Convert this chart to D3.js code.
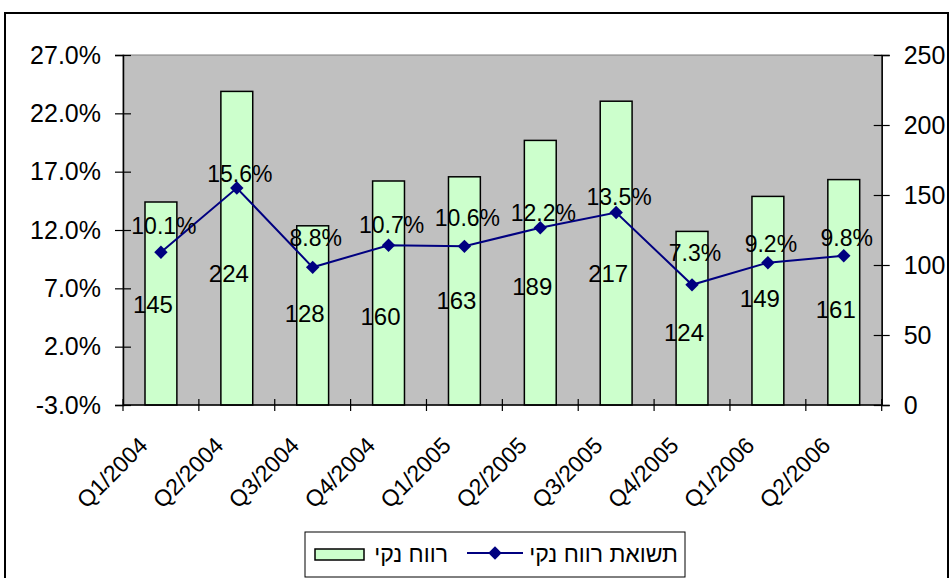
<!DOCTYPE html>
<html>
<head>
<meta charset="utf-8">
<script src="https://cdn.jsdelivr.net/npm/d3@7"></script>
<style>
  body { margin: 0; background: white; }
  text { font-family: "Liberation Sans", Arial, sans-serif; fill: black; }
</style>
</head>
<body>
<script>
const quarters = ["Q1/2004", "Q2/2004", "Q3/2004", "Q4/2004", "Q1/2005",
                  "Q2/2005", "Q3/2005", "Q4/2005", "Q1/2006", "Q2/2006"];
// net profit (bars, right axis)
const netProfit = [145, 224, 128, 160, 163, 189, 217, 124, 149, 161];
// return on net profit, % (line, left axis)
const profitReturn = [10.1, 15.6, 8.8, 10.7, 10.6, 12.2, 13.5, 7.3, 9.2, 9.8];
// where the data labels sit (in axis units)
const countLabelAt = [72, 94, 65, 63, 74.5, 84.5, 94, 51.6, 76.2, 68.4];
const rateLabelAt = [12.34, 16.8, 11.31, 12.43, 13.03, 13.46, 14.83, 10.03, 10.8, 11.31];
const leftTicks = [-3, 2, 7, 12, 17, 22, 27];
const rightTicks = [0, 50, 100, 150, 200, 250];
const legendNames = ["תשואת רווח נקי", "רווח נקי"];

const WIDTH = 951;
const HEIGHT = 578;
const PLOT = { left: 123, right: 881.7, top: 55, bottom: 405 };
const BAR_FILL = "#CCFFCC";
const LINE_COLOR = "#000080";
const GREY = "#C0C0C0";

const svg = d3.select("body")
              .append("svg")
              .attr("width", WIDTH)
              .attr("height", HEIGHT);

// outer chart frame
svg.append("rect")
   .attr("x", 5)
   .attr("y", 13)
   .attr("width", 943)
   .attr("height", 600)
   .attr("fill", "white")
   .attr("stroke", "black")
   .attr("stroke-width", 2);

const x = d3.scaleBand()
            .domain(quarters)
            .range([PLOT.left, PLOT.right])
            .padding(0);
const yLeft = d3.scaleLinear().domain([-3, 27]).range([PLOT.bottom, PLOT.top]);
const yRight = d3.scaleLinear().domain([0, 250]).range([PLOT.bottom, PLOT.top]);
const bw = x.bandwidth();
const barW = bw * 0.42;
const cx = d => x(d) + bw / 2;

// plot background
svg.append("rect")
   .attr("x", PLOT.left)
   .attr("y", PLOT.top)
   .attr("width", PLOT.right - PLOT.left)
   .attr("height", PLOT.bottom - PLOT.top)
   .attr("fill", GREY)
   .attr("stroke", "#808080")
   .attr("stroke-width", 1);

// bars
svg.append("g")
   .selectAll("rect")
   .data(quarters)
   .join("rect")
   .attr("x", d => cx(d) - barW / 2)
   .attr("y", (d, i) => yRight(netProfit[i]))
   .attr("width", barW)
   .attr("height", (d, i) => yRight(0) - yRight(netProfit[i]))
   .attr("fill", BAR_FILL)
   .attr("stroke", "black")
   .attr("stroke-width", 1.5);

// axes
const leftAxis = svg.append("g")
   .attr("transform", `translate(${PLOT.left},0)`)
   .call(d3.axisLeft(yLeft).tickValues(leftTicks).tickSize(8).tickPadding(14)
           .tickFormat(d => d.toFixed(1) + "%"));
const rightAxis = svg.append("g")
   .attr("transform", `translate(${PLOT.right},0)`)
   .call(d3.axisRight(yRight).tickValues(rightTicks).tickSize(8).tickPadding(14));

[leftAxis, rightAxis].forEach(g => {
  g.select(".domain").attr("stroke", "black").attr("stroke-width", 1.5);
  g.selectAll(".tick line").attr("stroke", "black").attr("stroke-width", 1.2);
  g.selectAll("text").attr("font-size", 25).attr("font-family", "Liberation Sans, Arial, sans-serif");
});
leftAxis.selectAll(".tick line").attr("x1", 8);
rightAxis.selectAll(".tick line").attr("x1", -8);

// bottom axis line and category boundary ticks
svg.append("line")
   .attr("x1", PLOT.left).attr("x2", PLOT.right)
   .attr("y1", PLOT.bottom).attr("y2", PLOT.bottom)
   .attr("stroke", "black").attr("stroke-width", 1.5);

svg.append("g")
   .selectAll("line")
   .data(quarters.map(q => x(q)).concat([PLOT.right]))
   .join("line")
   .attr("x1", d => d).attr("x2", d => d)
   .attr("y1", PLOT.bottom - 6).attr("y2", PLOT.bottom + 6)
   .attr("stroke", "black").attr("stroke-width", 1.2);

svg.append("g")
   .selectAll("text")
   .data(quarters)
   .join("text")
   .attr("transform", d => `translate(${cx(d) - 12},447) rotate(-45)`)
   .attr("text-anchor", "end")
   .attr("font-size", 23)
   .text(d => d);

// line with diamonds
const line = d3.line()
               .x(d => cx(d))
               .y((d, i) => yLeft(profitReturn[i]));

svg.append("path")
   .datum(quarters)
   .attr("d", line)
   .attr("fill", "none")
   .attr("stroke", LINE_COLOR)
   .attr("stroke-width", 2);

const diamond = d3.symbol(d3.symbolSquare, 90);
svg.append("g")
   .selectAll("path")
   .data(quarters)
   .join("path")
   .attr("d", diamond)
   .attr("transform", (d, i) => `translate(${cx(d)},${yLeft(profitReturn[i])}) rotate(45)`)
   .attr("fill", LINE_COLOR);

// data labels
svg.append("g")
   .selectAll("text")
   .data(quarters)
   .join("text")
   .attr("x", d => cx(d) - 8)
   .attr("y", (d, i) => yRight(countLabelAt[i]))
   .attr("dy", "0.35em")
   .attr("text-anchor", "middle")
   .attr("font-size", 24)
   .text((d, i) => netProfit[i]);

svg.append("g")
   .selectAll("text")
   .data(quarters)
   .join("text")
   .attr("x", d => cx(d) + 3)
   .attr("y", (d, i) => yLeft(rateLabelAt[i]))
   .attr("dy", "0.35em")
   .attr("text-anchor", "middle")
   .attr("font-size", 23)
   .text((d, i) => profitReturn[i].toFixed(1) + "%");

// legend
const legend = svg.append("g");
legend.append("rect")
      .attr("x", 305).attr("y", 532)
      .attr("width", 380).attr("height", 45)
      .attr("fill", "white")
      .attr("stroke", "black")
      .attr("stroke-width", 1);

legend.append("rect")
      .attr("x", 315).attr("y", 549)
      .attr("width", 49).attr("height", 11)
      .attr("fill", BAR_FILL)
      .attr("stroke", "black")
      .attr("stroke-width", 1.5);

legend.append("text")
      .attr("x", 448).attr("y", 554)
      .attr("dy", "0.35em")
      .attr("text-anchor", "end")
      .attr("font-size", 23)
      .text(legendNames[1]);

legend.append("line")
      .attr("x1", 467).attr("x2", 523)
      .attr("y1", 553).attr("y2", 553)
      .attr("stroke", LINE_COLOR)
      .attr("stroke-width", 2);

legend.append("path")
      .attr("d", diamond)
      .attr("transform", "translate(495,553) rotate(45)")
      .attr("fill", LINE_COLOR);

legend.append("text")
      .attr("x", 678).attr("y", 554)
      .attr("dy", "0.35em")
      .attr("text-anchor", "end")
      .attr("font-size", 23)
      .text(legendNames[0]);
</script>
</body>
</html>
